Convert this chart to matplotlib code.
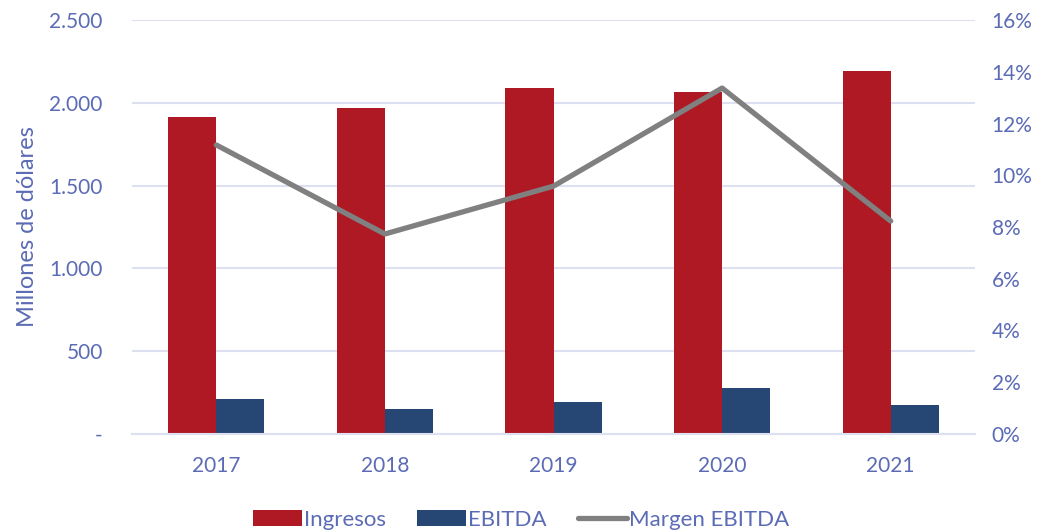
import matplotlib
matplotlib.use("Agg")
import matplotlib.pyplot as plt
import numpy as np
from matplotlib.ticker import FuncFormatter, FixedLocator

years = ["2017", "2018", "2019", "2020", "2021"]
ingresos = [1915, 1970, 2090, 2065, 2192]
ebitda = [211, 151, 194, 278, 176]
margen = [11.17, 7.73, 9.58, 13.37, 8.23]

left_ticks = [0, 500, 1000, 1500, 2000, 2500]
right_ticks = [0, 2, 4, 6, 8, 10, 12, 14, 16]

txt = "#5B6BB5"
red = "#AE1924"
blue = "#264673"
gray = "#808080"
grid = "#DDE0F0"

plt.rcParams["font.family"] = ["Lato", "DejaVu Sans"]

fig = plt.figure(figsize=(10.42, 5.31), dpi=100)
ax = fig.add_axes([0.1267, 0.1827, 0.8090, 0.7796])
ax2 = ax.twinx()

x = np.arange(len(years))
w = 0.285
ax.bar(x - w / 2, ingresos, w, color=red, label="Ingresos", zorder=2)
ax.bar(x + w / 2, ebitda, w, color=blue, label="EBITDA", zorder=2)
ax2.plot(x, margen, color=gray, lw=3.8, label="Margen EBITDA", solid_capstyle="round")

ax.set_xlim(-0.5, len(years) - 0.5)
ax.set_ylim(0, 2500)
ax2.set_ylim(0, 16)
ax.yaxis.set_major_locator(FixedLocator(left_ticks))
ax2.yaxis.set_major_locator(FixedLocator(right_ticks))

def fmt_left(v, p):
    if v == 0:
        return "-"
    return f"{int(v):,}".replace(",", ".")

ax.yaxis.set_major_formatter(FuncFormatter(fmt_left))
ax2.yaxis.set_major_formatter(FuncFormatter(lambda v, p: f"{int(v)}%"))

ax.set_xticks(x)
ax.set_xticklabels(years)
ax.grid(axis="y", color=grid, lw=1.5, zorder=0)
ax.set_axisbelow(True)

for a in (ax, ax2):
    for s in a.spines.values():
        s.set_visible(False)
    a.tick_params(length=0, labelsize=15, labelcolor=txt)
ax.spines["bottom"].set_visible(True)
ax.spines["bottom"].set_color(grid)
ax.spines["bottom"].set_linewidth(1.5)
ax.tick_params(axis="y", pad=21)
ax.tick_params(axis="x", pad=16)
ax2.tick_params(axis="y", pad=12)

ax.set_ylabel("Millones de dólares", color=txt, fontsize=17, labelpad=8)

h1, l1 = ax.get_legend_handles_labels()
h2, l2 = ax2.get_legend_handles_labels()
fig.legend(h1 + h2, l1 + l2, loc="lower center", bbox_to_anchor=(0.5, -0.035), ncol=3,
           frameon=False, fontsize=16, labelcolor=txt, handlelength=2.2,
           handletextpad=0.1, columnspacing=1.4)

fig.savefig("out.png", dpi=100)
